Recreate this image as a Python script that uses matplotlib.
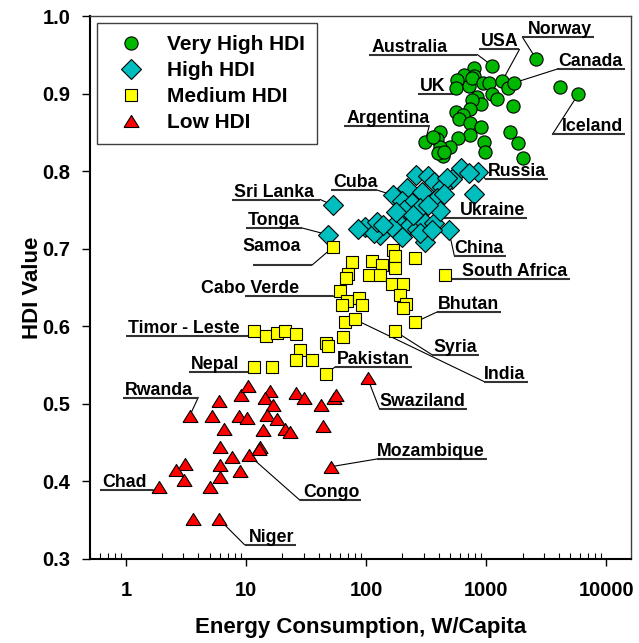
import matplotlib
matplotlib.use('Agg')
import numpy as np
import matplotlib.pyplot as plt
from matplotlib.ticker import FixedLocator, LogLocator, NullFormatter, FuncFormatter

plt.rcParams['font.family'] = ['Liberation Sans', 'DejaVu Sans']
plt.rcParams['font.weight'] = 'bold'
plt.rcParams['axes.labelweight'] = 'bold'

# energy use (W/capita) and HDI
very_high_x = [2610, 1116, 794, 647, 784, 570, 562, 712, 760, 939, 1045, 1352, 1511, 1711, 4083,
               5808, 1116, 1223, 1679, 836, 900, 760, 736, 557, 637, 590, 736, 905, 1570, 410,
               736, 579, 388, 307, 494, 950, 981, 1841, 2034, 414, 432, 398, 362, 447]
very_high_y = [0.944, 0.936, 0.933, 0.924, 0.923, 0.917, 0.907, 0.910, 0.920, 0.913, 0.913, 0.916,
               0.907, 0.914, 0.908, 0.899, 0.900, 0.893, 0.884, 0.896, 0.886, 0.892, 0.880, 0.876,
               0.873, 0.867, 0.862, 0.857, 0.850, 0.851, 0.846, 0.843, 0.841, 0.837, 0.831, 0.838,
               0.825, 0.836, 0.817, 0.831, 0.820, 0.823, 0.844, 0.825]

high_x = [52.8, 48.0, 167, 858, 615, 712, 518, 784, 261, 324, 218, 291, 364, 427, 470, 388, 441,
          198, 240, 282, 205, 186, 233, 265, 310, 364, 414, 485, 310, 198, 164, 131, 98, 115, 123,
          139, 282, 86, 328, 246, 175, 355]
high_y = [0.756, 0.718, 0.769, 0.799, 0.804, 0.797, 0.790, 0.771, 0.795, 0.794, 0.778, 0.773,
          0.786, 0.780, 0.791, 0.765, 0.771, 0.761, 0.759, 0.752, 0.750, 0.733, 0.731, 0.726,
          0.733, 0.733, 0.748, 0.724, 0.709, 0.715, 0.728, 0.718, 0.728, 0.720, 0.735, 0.731,
          0.720, 0.726, 0.756, 0.743, 0.747, 0.724]

medium_x = [52.8, 75.4, 69.8, 68.1, 59.9, 69.1, 62.7, 86.3, 92.1, 65.9, 79.9, 63.9, 46.0, 48.0,
            46.4, 28.2, 26.1, 35.5, 16.5, 11.7, 11.7, 14.5, 18.0, 21.0, 26.1, 111.6, 136, 104.5,
            131, 166, 174, 174, 256, 164, 201, 192, 213, 201, 253, 172, 449]
medium_y = [0.702, 0.683, 0.668, 0.662, 0.645, 0.632, 0.627, 0.636, 0.627, 0.606, 0.609, 0.586,
            0.578, 0.575, 0.539, 0.570, 0.556, 0.556, 0.548, 0.548, 0.594, 0.587, 0.591, 0.594,
            0.590, 0.684, 0.679, 0.666, 0.666, 0.698, 0.690, 0.675, 0.688, 0.655, 0.655, 0.640,
            0.629, 0.624, 0.605, 0.594, 0.666]

low_x = [3.37, 5.14, 5.88, 6.58, 8.69, 10.06, 9.05, 10.35, 15.8, 14.4, 16.7, 14.8, 18.0, 13.7,
         20.9, 23.1, 26.1, 30.5, 41.6, 43.2, 53.7, 56.2, 102.5, 50.8, 6.03, 7.6, 10.5, 12.9, 12.7,
         3.10, 2.61, 3.05, 5.99, 5.99, 8.80, 5.01, 1.89, 3.60, 5.96]
low_y = [0.484, 0.484, 0.504, 0.468, 0.484, 0.482, 0.512, 0.523, 0.516, 0.507, 0.499, 0.486,
         0.481, 0.466, 0.468, 0.464, 0.514, 0.507, 0.499, 0.471, 0.508, 0.511, 0.533, 0.419,
         0.444, 0.432, 0.434, 0.445, 0.442, 0.422, 0.415, 0.402, 0.421, 0.406, 0.413, 0.393,
         0.393, 0.352, 0.351]

countries = {
    'Norway': (2610, 0.944), 'USA': (1352, 0.916), 'Canada': (1711, 0.914),
    'Australia': (1116, 0.936), 'UK': (562, 0.907), 'Argentina': (307, 0.837),
    'Iceland': (5808, 0.899), 'Russia': (858, 0.799), 'Cuba': (167, 0.769),
    'Ukraine': (414, 0.748), 'China': (485, 0.724), 'Sri Lanka': (52.8, 0.756),
    'Tonga': (48.0, 0.718), 'Samoa': (52.8, 0.702), 'Cabo Verde': (59.9, 0.645),
    'Timor - Leste': (11.7, 0.594), 'Nepal': (11.7, 0.548), 'Pakistan': (46.4, 0.539),
    'India': (79.9, 0.609), 'Syria': (172, 0.594), 'Bhutan': (253, 0.605),
    'South Africa': (449, 0.666), 'Rwanda': (3.37, 0.484), 'Chad': (1.89, 0.393),
    'Congo': (10.5, 0.434), 'Niger': (5.96, 0.351), 'Mozambique': (50.8, 0.419),
    'Swaziland': (102.5, 0.533),
}

# label layout in pixels: leader end offset (dx, dy), text side, gap, raise, underline length
label_layout = [
    ('Norway', -14, 22.3, 'R', 5, 0, None),
    ('USA', 17.3, 31.7, 'L', 1, 0, None),
    ('Canada', 43, 13.7, 'R', 1, 0, None),
    ('Australia', -14.7, 11, 'L', 30, 0, None),
    ('UK', -2, -6, 'L', 9, 0, None),
    ('Argentina', 4.5, 16.7, 'L', 0, 0, None),
    ('Iceland', -25.7, -40, 'R', 9, 0, None),
    ('Russia', 7, -7, 'R', 2, 0, None),
    ('Cuba', -15.7, 5, 'L', 0, 0, None),
    ('Ukraine', 3, -6.6, 'R', 16, 0, None),
    ('China', 5.7, -25.7, 'R', 0, 0, None),
    ('Sri Lanka', -12.7, 5.7, 'L', 6, 0, None),
    ('Tonga', -25.7, 6.7, 'L', 2, 0, None),
    ('Samoa', -20.7, -17.7, 'L', 11, 11, 59),
    ('Cabo Verde', -6.3, -5, 'L', 34, 0, 88),
    ('Timor - Leste', -6.3, -5, 'L', 8, 0, None),
    ('Nepal', -6.3, -5, 'L', 9, 0, None),
    ('Pakistan', 9, 6.8, 'R', 2, 0, None),
    ('India', 129.7, -62.4, 'R', 0, 0, None),
    ('Syria', 37.7, -24, 'R', 1, 0, None),
    ('Bhutan', 22.7, 10.6, 'R', 0, 0, None),
    ('South Africa', 7.7, -4.3, 'R', 10, 0, None),
    ('Rwanda', 8.7, 18.7, 'L', 5, 0, None),
    ('Chad', -5.9, -3.3, 'L', 6.6, 0, None),
    ('Congo', 51.3, -45.3, 'R', 2.7, 0, None),
    ('Niger', 25.3, -25.3, 'R', 4, 0, None),
    ('Mozambique', 46, 7.7, 'R', 0, 0, None),
    ('Swaziland', 12, -31, 'R', 0, 0, None),
]

fig = plt.figure(figsize=(6.39, 6.43), dpi=100)
ax = fig.add_axes([90 / 639, 1 - 559 / 643, 541 / 639, 543 / 643])
ax.set_xscale('log')
ax.set_xlim(0.5, 16000)
ax.set_ylim(0.3, 1.0)

tri = [(-1, -0.8), (1, -0.8), (0, 0.8), (-1, -0.8)]
ec = 'black'
ax.plot(very_high_x, very_high_y, 'o', ms=9.5, mfc='#00B800', mec=ec, mew=0.8, zorder=3, label='Very High HDI')
ax.plot(high_x, high_y, 'D', ms=10.3, mfc='#00BEBE', mec=ec, mew=0.8, zorder=3, label='High HDI')
ax.plot(medium_x, medium_y, 's', ms=8.5, mfc='#FFFF00', mec=ec, mew=0.8, zorder=3, label='Medium HDI')
ax.plot(low_x, low_y, marker=tri, ls='none', ms=10.8, mfc='#FF0000', mec=ec, mew=0.8, zorder=3, label='Low HDI')

leg = ax.legend(loc='upper left', bbox_to_anchor=(0.0135, 0.9877), borderaxespad=0,
                fancybox=False, edgecolor='#404040', framealpha=1, fontsize=15,
                handletextpad=0.75, labelspacing=0.33, borderpad=0.6, handlelength=2.0)
leg.get_frame().set_linewidth(1.0)
leg.set_zorder(6)

# ticks
ax.xaxis.set_major_locator(FixedLocator([1, 10, 100, 1000, 10000]))
ax.xaxis.set_major_formatter(FuncFormatter(lambda v, p: f'{v:g}'))
ax.xaxis.set_minor_locator(LogLocator(base=10, subs=range(2, 10)))
ax.xaxis.set_minor_formatter(NullFormatter())
ax.set_yticks(np.arange(0.3, 1.01, 0.1))
ax.yaxis.set_major_formatter(FuncFormatter(lambda v, p: f'{v:.1f}'))
ax.tick_params(axis='x', which='major', direction='out', length=5, width=1, pad=11, labelsize=14.5)
ax.tick_params(axis='x', which='minor', direction='in', length=4, width=0.8)
ax.tick_params(axis='y', direction='out', length=6, width=1, pad=8, labelsize=14.5)

for s in ['left', 'bottom']:
    ax.spines[s].set_linewidth(1.5)
    ax.spines[s].set_color('black')
for s in ['top', 'right']:
    ax.spines[s].set_linewidth(1.0)
    ax.spines[s].set_color('#404040')

ax.set_xlabel('Energy Consumption, W/Capita', fontsize=16, fontweight='bold', labelpad=12)
ax.set_ylabel('HDI Value', fontsize=16, fontweight='bold', labelpad=0)

# country labels with underline and leader line
texts = []
for name, dx, dy, side, gap, rise, ulen in label_layout:
    cx, cy = countries[name]
    tx = dx + gap if side == 'R' else dx - gap
    t = ax.annotate(name, xy=(cx, cy), xytext=(tx, dy + 3 + rise), textcoords='offset pixels',
                    ha='left' if side == 'R' else 'right', va='baseline',
                    fontsize=12.8, fontweight='bold', zorder=5)
    texts.append(t)

fig.canvas.draw()
inv = ax.transData.inverted()
for t, (name, dx, dy, side, gap, rise, ulen) in zip(texts, label_layout):
    p = ax.transData.transform(countries[name])
    ex, ey = p[0] + dx, p[1] + dy
    bb = t.get_window_extent()
    if side == 'R':
        far = ex + ulen if ulen else bb.x1 + 2
    else:
        far = ex - ulen if ulen else bb.x0 - 2
    a, b = inv.transform([(ex, ey), (far, ey)])
    ax.plot([a[0], b[0]], [a[1], b[1]], color='#333333', lw=1.5, zorder=2, solid_capstyle='butt')
    ax.plot([a[0], countries[name][0]], [a[1], countries[name][1]], color='black', lw=0.8, zorder=1)

fig.savefig('out.png', dpi=100)
